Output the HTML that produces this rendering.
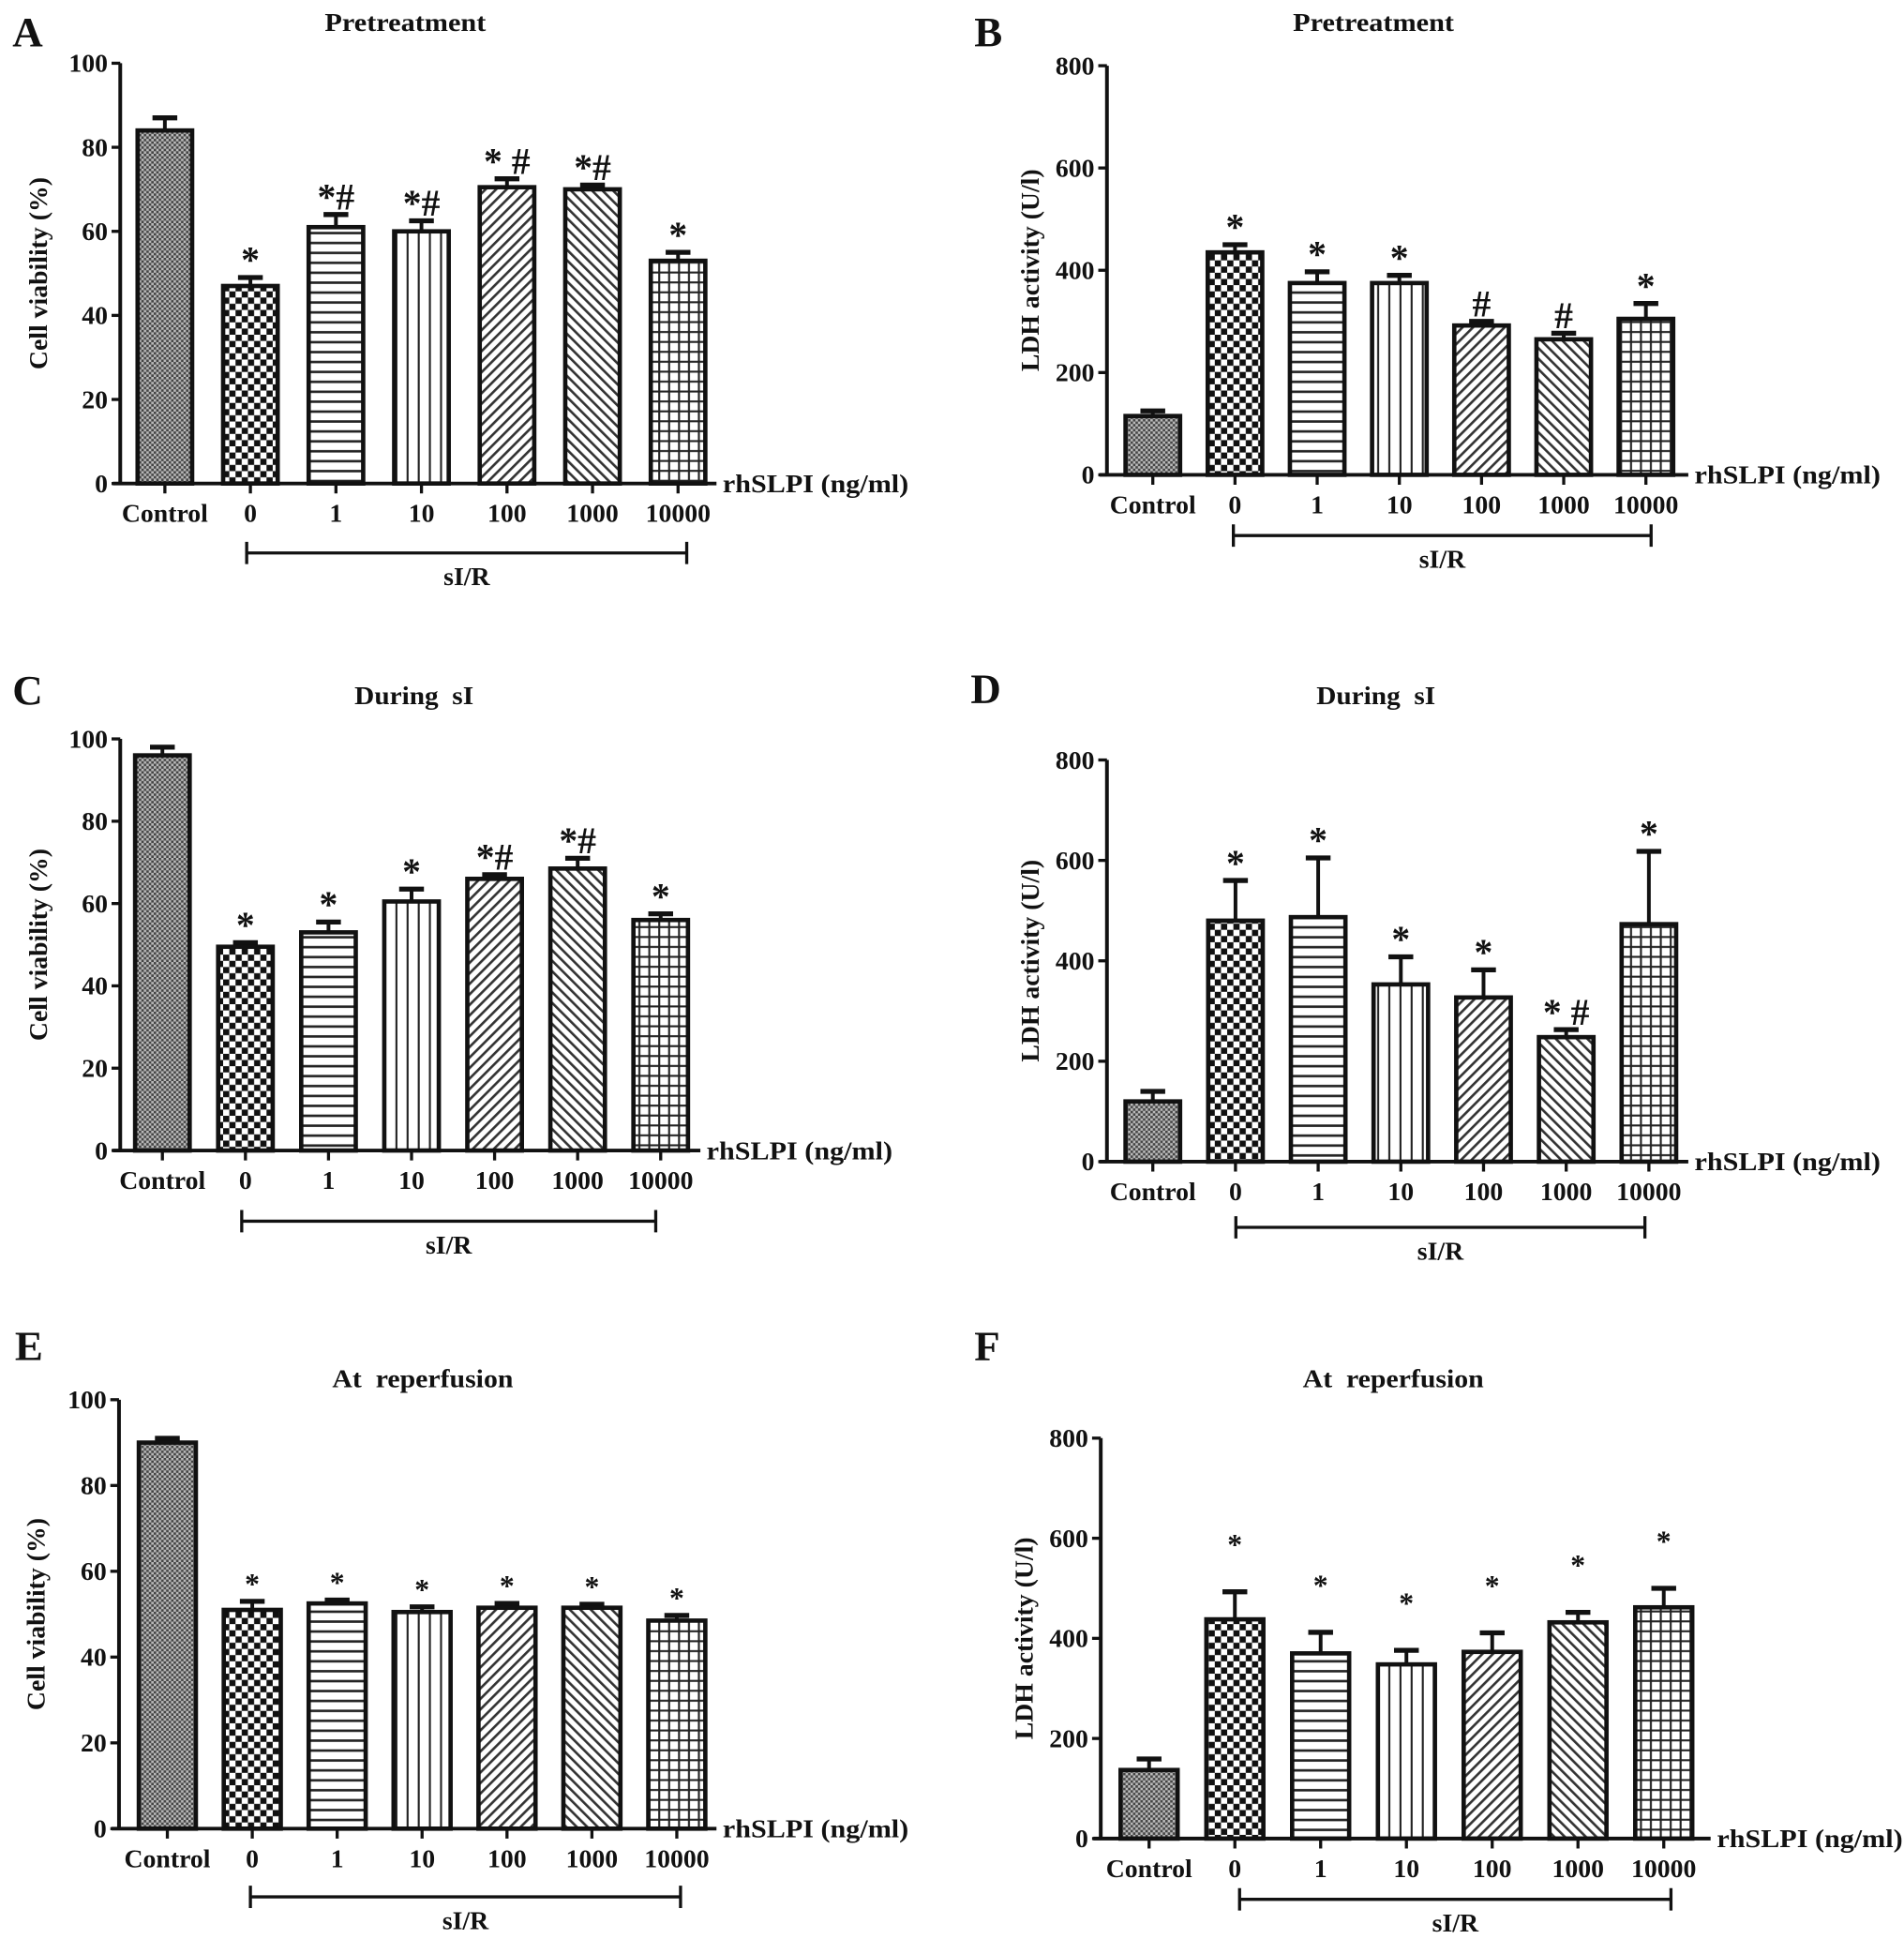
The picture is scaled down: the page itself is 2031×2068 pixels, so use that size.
<!DOCTYPE html>
<html><head><meta charset="utf-8"><style>
html,body{margin:0;padding:0;background:#fff;}
svg{display:block;}
text{font-family:"Liberation Serif",serif;font-weight:bold;fill:#111;}
</style></head>
<body>
<svg id="fig" width="2031" height="2068" viewBox="0 0 1536 1564" xmlns="http://www.w3.org/2000/svg">
<defs>
<pattern id="p0" width="4" height="4" patternUnits="userSpaceOnUse"><rect width="4" height="4" fill="#bbb"/><rect width="2" height="2" fill="#444"/><rect x="2" y="2" width="2" height="2" fill="#444"/></pattern>
<pattern id="p1" width="10" height="10" patternUnits="userSpaceOnUse"><rect width="10" height="10" fill="#fff"/><rect width="5" height="5" fill="#111"/><rect x="5" y="5" width="5" height="5" fill="#111"/></pattern>
<pattern id="p2" width="8" height="8" patternUnits="userSpaceOnUse"><rect width="8" height="8" fill="#fff"/><rect y="3" width="8" height="2" fill="#222"/></pattern>
<pattern id="p3" width="9" height="8" patternUnits="userSpaceOnUse"><rect width="9" height="8" fill="#fff"/><rect x="4" width="1.6" height="8" fill="#222"/></pattern>
<pattern id="p4" width="6" height="6" patternUnits="userSpaceOnUse" patternTransform="rotate(45)"><rect width="6" height="6" fill="#fff"/><rect width="2" height="6" fill="#333"/></pattern>
<pattern id="p5" width="6" height="6" patternUnits="userSpaceOnUse" patternTransform="rotate(-45)"><rect width="6" height="6" fill="#fff"/><rect width="2" height="6" fill="#333"/></pattern>
<pattern id="p6" width="8" height="8" patternUnits="userSpaceOnUse"><rect width="8" height="8" fill="#fff"/><rect x="3" width="1.6" height="8" fill="#222"/><rect y="3" width="8" height="1.6" fill="#222"/></pattern>
</defs>
</svg>
<script>
const categories = ["Control","0","1","10","100","1000","10000"];
const valuesA = [84,47,61,60,70.5,70,53];
const errorsA = [3,2,3,2.5,2,1,2];
const annotA = ["","*","*#","*#","* #","*#","*"];
const valuesB = [115,435,375,375,292,265,305];
const errorsB = [10,15,22,15,8,12,30];
const annotB = ["","*","*","*","#","#","*"];
const valuesC = [96,49.5,53,60.5,66,68.5,56];
const errorsC = [2,1,2.5,3,1,2.5,1.5];
const annotC = ["","*","*","*","*#","*#","*"];
const valuesD = [120,480,487,353,327,248,473];
const errorsD = [20,80,118,55,55,15,145];
const annotD = ["","*","*","*","*","* #","*"];
const valuesE = [90,51,52.5,50.5,51.5,51.5,48.5];
const errorsE = [1,2,0.8,1.2,1,0.8,1.2];
const annotE = ["","*","*","*","*","*","*"];
const valuesF = [137,438,370,348,373,432,462];
const errorsF = [22,55,42,28,38,20,38];
const annotF = ["","*","*","*","*","*","*"];
const yTicksViab = [0,20,40,60,80,100];
const yTicksLDH = [0,200,400,600,800];

const panels = [
 {id:"a",letter:"A",lx:10,ly:37,title:"Pretreatment",tx:327,ty:25,ax:97,y0:390,y1:51,max:100,ticks:yTicksViab,x0:133,dx:69,bw:44,xend:578,vals:valuesA,errs:errorsA,ann:annotA,afs:30,agap:4,ylab:"Cell viability (%)",ylx:38,bry:446,brx1:199,brx2:554,yl:"yv"},
 {id:"b",letter:"B",lx:786,ly:37,title:"Pretreatment",tx:1108,ty:25,ax:893,y0:383,y1:53,max:800,ticks:yTicksLDH,x0:930,dx:66.3,bw:44,xend:1362,vals:valuesB,errs:errorsB,ann:annotB,afs:30,agap:4,ylab:"LDH activity (U/l)",ylx:838,bry:432,brx1:995,brx2:1332,yl:"yl"},
 {id:"c",letter:"C",lx:10,ly:568,title:"During\u00a0\u00a0sI",tx:334,ty:568,ax:97,y0:928,y1:596,max:100,ticks:yTicksViab,x0:131,dx:67,bw:44,xend:565,vals:valuesC,errs:errorsC,ann:annotC,afs:30,agap:4,ylab:"Cell viability (%)",ylx:38,bry:985,brx1:195,brx2:529,yl:"yv"},
 {id:"d",letter:"D",lx:783,ly:567,title:"During\u00a0\u00a0sI",tx:1110,ty:568,ax:893,y0:937,y1:613,max:800,ticks:yTicksLDH,x0:930,dx:66.7,bw:44,xend:1362,vals:valuesD,errs:errorsD,ann:annotD,afs:30,agap:4,ylab:"LDH activity (U/l)",ylx:838,bry:990,brx1:997,brx2:1327,yl:"yl"},
 {id:"e",letter:"E",lx:12,ly:1097,title:"At\u00a0\u00a0reperfusion",tx:341,ty:1119,ax:96,y0:1475,y1:1129,max:100,ticks:yTicksViab,x0:135,dx:68.5,bw:46,xend:578,vals:valuesE,errs:errorsE,ann:annotE,afs:24,agap:6,ylab:"Cell viability (%)",ylx:36,bry:1530,brx1:202,brx2:549,yl:"yv"},
 {id:"f",letter:"F",lx:786,ly:1097,title:"At\u00a0\u00a0reperfusion",tx:1124,ty:1119,ax:888,y0:1483,y1:1160,max:800,ticks:yTicksLDH,x0:927,dx:69.2,bw:46,xend:1380,vals:valuesF,errs:errorsF,ann:annotF,afs:24,agap:30,ylab:"LDH activity (U/l)",ylx:833,bry:1532,brx1:1000,brx2:1348,yl:"yl"}
];
const svg=document.getElementById('fig');
const NS="http://www.w3.org/2000/svg";
function mk(tag,attrs,parent){const e=document.createElementNS(NS,tag);for(const k in attrs)e.setAttribute(k,attrs[k]);parent.appendChild(e);return e;}
panels.forEach(p=>{
 const g=mk('g',{},svg);
 
 
 const ys=v=>p.y0-(v/p.max)*(p.y0-p.y1);
 const xs=i=>p.x0+i*p.dx;
 let t=mk('text',{x:p.lx,y:p.ly,'font-size':34},g);t.textContent=p.letter;
 
 
 t=mk('text',{x:p.tx,y:p.ty,'font-size':21,'text-anchor':'middle',textLength:130,lengthAdjust:'spacingAndGlyphs'},g);t.textContent=p.title;
 if(p.title.startsWith('During'))t.setAttribute('textLength',96);
 if(p.title.startsWith('At'))t.setAttribute('textLength',146);
 
 
 const cy=(p.y0+p.y1)/2;
 t=mk('text',{x:p.ylx,y:cy,'font-size':21,'text-anchor':'middle',transform:`rotate(-90 ${p.ylx} ${cy})`},g);t.textContent=p.ylab;
 
 
 p.vals.forEach((v,i)=>{
  const x=xs(i),top=ys(v),et=ys(v+p.errs[i]);
  const ln=mk('line',{x1:x,x2:x,y1:top,y2:et,stroke:'#111','stroke-width':3},g);
  
  
  mk('line',{x1:x-10,x2:x+10,y1:et,y2:et,stroke:'#111','stroke-width':4},g);
  const r=mk('rect',{x:x-p.bw/2,y:top,width:p.bw,height:p.y0-top,fill:`url(#p${i})`,stroke:'#111','stroke-width':3.5},g);
  
  
  if(p.ann[i]){
   const a=mk('text',{x:x,y:et-p.agap,'font-size':p.afs,'text-anchor':'middle'},g);a.textContent=p.ann[i];
   
   
  }
  mk('line',{x1:x,x2:x,y1:p.y0,y2:p.y0+8,stroke:'#111','stroke-width':2.5},g);
  const lb=mk('text',{x:x,y:p.y0+31,'font-size':21,'text-anchor':'middle'},g);lb.textContent=categories[i];
  
  
 });
 const ya=mk('line',{x1:p.ax,x2:p.ax,y1:p.y1,y2:p.y0+1,stroke:'#111','stroke-width':3},g);
 
 
 const xa=mk('line',{x1:p.ax-6,x2:p.xend,y1:p.y0,y2:p.y0,stroke:'#111','stroke-width':3},g);
 
 
 p.ticks.forEach(v=>{
  const y=ys(v);
  mk('line',{x1:p.ax-7,x2:p.ax,y1:y,y2:y,stroke:'#111','stroke-width':2.5},g);
  const tl=mk('text',{x:p.ax-10,y:y+7,'font-size':21,'text-anchor':'end'},g);tl.textContent=v;
  
  
 });
 t=mk('text',{x:p.xend+5,y:p.y0+7,'font-size':21,textLength:150,lengthAdjust:'spacingAndGlyphs'},g);t.textContent="rhSLPI (ng/ml)";
 
 
 const br=mk('path',{d:`M${p.brx1} ${p.bry-9}V${p.bry+9}M${p.brx1} ${p.bry}H${p.brx2}M${p.brx2} ${p.bry-9}V${p.bry+9}`,stroke:'#111','stroke-width':2.5,fill:'none'},g);
 
 
 t=mk('text',{x:(p.brx1+p.brx2)/2,y:p.bry+26,'font-size':21,'text-anchor':'middle'},g);t.textContent="sI/R";
 
 
});
</script>
</body></html>
